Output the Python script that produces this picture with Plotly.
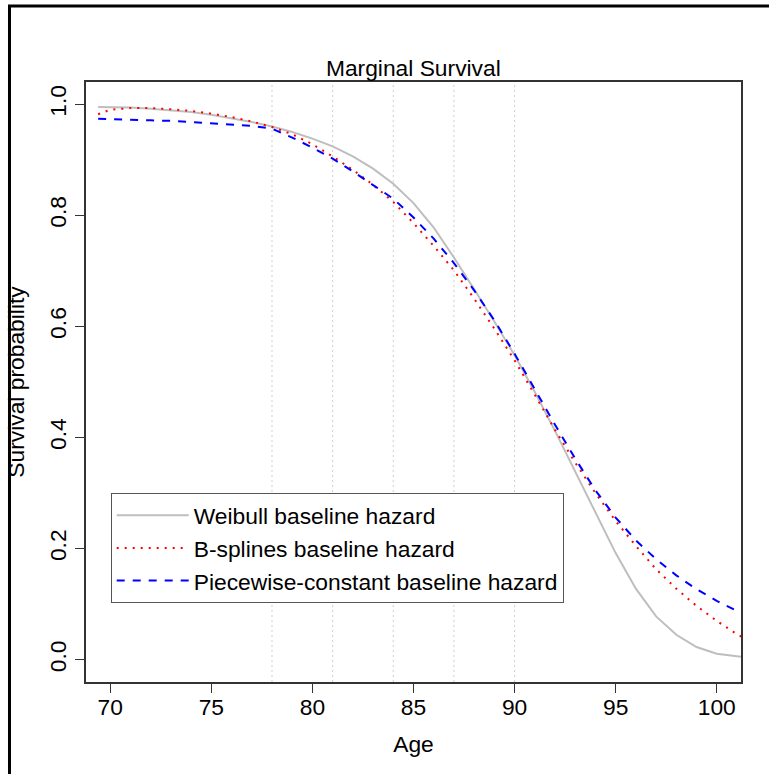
import plotly.graph_objects as go

# Ages at which curves are evaluated
age = [69.4, 70, 71, 72, 73, 74, 75, 76, 77, 78, 79, 80, 81, 82, 83, 84, 85,
       86, 87, 88, 89, 90, 91, 92, 93, 94, 95, 96, 97, 98, 99, 100, 101, 101.5]

weibull = [0.995, 0.995, 0.994, 0.992, 0.989, 0.986, 0.981, 0.975, 0.968, 0.960,
           0.950, 0.938, 0.924, 0.906, 0.884, 0.857, 0.822, 0.778, 0.724, 0.667,
           0.609, 0.548, 0.482, 0.412, 0.338, 0.264, 0.192, 0.128, 0.078, 0.045,
           0.023, 0.011, 0.006, 0.004]

bsplines = [0.982, 0.990, 0.993, 0.993, 0.991, 0.988, 0.983, 0.977, 0.969, 0.959,
            0.946, 0.928, 0.906, 0.882, 0.855, 0.824, 0.786, 0.745, 0.701, 0.650,
            0.596, 0.539, 0.477, 0.414, 0.355, 0.300, 0.250, 0.205, 0.163, 0.128,
            0.097, 0.070, 0.046, 0.036]

piecewise = [0.974, 0.973, 0.972, 0.971, 0.970, 0.968, 0.966, 0.964, 0.961, 0.956,
             0.940, 0.922, 0.902, 0.879, 0.855, 0.830, 0.796, 0.758, 0.714, 0.665,
             0.611, 0.551, 0.487, 0.423, 0.362, 0.305, 0.256, 0.215, 0.181, 0.152,
             0.127, 0.106, 0.088, 0.081]

knots = [78, 81, 84, 87, 90]
x_ticks = [70, 75, 80, 85, 90, 95, 100]
y_ticks = [0.0, 0.2, 0.4, 0.6, 0.8, 1.0]
y_ticklabels = ["0.0", "0.2", "0.4", "0.6", "0.8", "1.0"]

FONT = "Liberation Sans, Arial, Helvetica, sans-serif"
FS = 22.8

fig = go.Figure()
fig.add_trace(go.Scatter(x=age, y=weibull, mode="lines",
                         name="Weibull baseline hazard",
                         line=dict(color="#BEBEBE", width=2)))
fig.add_trace(go.Scatter(x=age, y=bsplines, mode="lines",
                         name="B-splines baseline hazard",
                         line=dict(color="#FF0000", width=2, dash="2px,6px")))
fig.add_trace(go.Scatter(x=age, y=piecewise, mode="lines",
                         name="Piecewise-constant baseline hazard",
                         line=dict(color="#0000FF", width=2, dash="8px,8px")))

shapes = []
for k in knots:
    shapes.append(dict(type="line", xref="x", yref="paper", x0=k, x1=k, y0=0, y1=1,
                       line=dict(color="#D0D0D0", width=1, dash="2px,3px"),
                       layer="below"))
# outer figure frame
shapes.append(dict(type="rect", xref="paper", yref="paper",
                   x0=-0.1168, x1=1.06, y0=-0.17, y1=1.1265,
                   line=dict(color="black", width=3), fillcolor="rgba(0,0,0,0)"))

fig.update_layout(
    width=769, height=774,
    margin=dict(l=86, r=28, t=82, b=92, autoexpand=False),
    paper_bgcolor="white", plot_bgcolor="white",
    font=dict(family=FONT, size=FS, color="black"),
    title=dict(text="Marginal Survival", x=0.5375, xanchor="center",
               y=1 - 68 / 774, yanchor="middle",
               font=dict(family=FONT, size=FS, color="black")),
    shapes=shapes,
    showlegend=True,
    legend=dict(x=0.0377, y=0.315, xanchor="left", yanchor="top",
                bgcolor="white", bordercolor="#555555", borderwidth=1,
                font=dict(family=FONT, size=FS, color="black"),
                itemwidth=72, tracegroupgap=0, itemclick=False),
)
fig.update_xaxes(range=[68.8, 101.2], tickvals=x_ticks, ticks="outside", ticklen=9,
                 tickwidth=1.3, tickcolor="#333333", showgrid=False, zeroline=False,
                 showline=True, linecolor="#333333", linewidth=1.5, mirror=True,
                 ticklabelstandoff=-5,
                 tickfont=dict(family=FONT, size=FS, color="black"),
                 title=dict(text="Age", font=dict(family=FONT, size=FS, color="black"),
                            standoff=17))
fig.update_yaxes(range=[-0.04, 1.04], tickvals=y_ticks, ticktext=y_ticklabels,
                 ticks="outside", ticklen=9, tickwidth=1.3, tickcolor="#333333",
                 tickangle=-90, showgrid=False, zeroline=False,
                 showline=True, linecolor="#333333", linewidth=1.5, mirror=True,
                 tickfont=dict(family=FONT, size=FS, color="black"),
                 title=dict(text="Survival probability",
                            font=dict(family=FONT, size=FS, color="black"),
                            standoff=14))

fig.write_html("out.html")
